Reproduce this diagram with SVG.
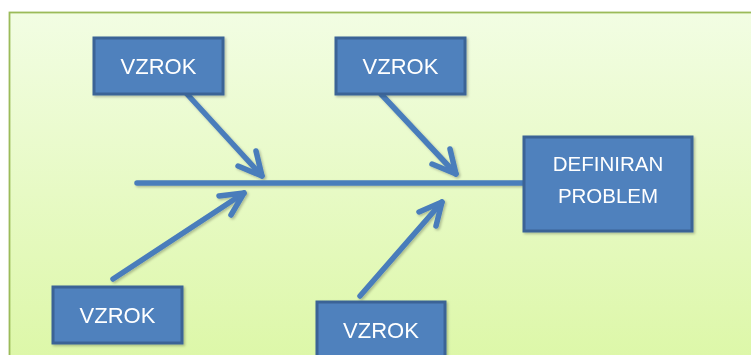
<svg xmlns="http://www.w3.org/2000/svg" width="751" height="355" viewBox="0 0 751 355">
  <style>
    .box { fill: #4f81bd; stroke: #3a6396; stroke-width: 3; }
    .lbl { fill: #ffffff; font-family: "Liberation Sans", Arial, sans-serif; font-size: 22px; text-anchor: middle; }
    .lbl2 { fill: #ffffff; font-family: "Liberation Sans", Arial, sans-serif; font-size: 20.5px; text-anchor: middle; }
    .bone { fill: none; stroke: #4a7dbb; stroke-width: 5.5; stroke-linecap: round; stroke-linejoin: round; }
  </style>
  <defs>
    <linearGradient id="bg" x1="0" y1="0" x2="0" y2="1">
      <stop offset="0" stop-color="#f2fde3"/>
      <stop offset="1" stop-color="#dcf7a6"/>
    </linearGradient>
    <filter id="shadow" x="-20%" y="-20%" width="140%" height="140%">
      <feDropShadow dx="1.5" dy="1.5" stdDeviation="1.2" flood-color="#000000" flood-opacity="0.25"/>
    </filter>
  </defs>

  <!-- backdrop panel -->
  <rect x="0" y="0" width="751" height="355" fill="#ffffff"/>
  <rect x="9.5" y="12.5" width="750" height="360" fill="url(#bg)" stroke="#9bbb59" stroke-width="1.8"/>

  <!-- spine and cause arrows -->
  <g id="connectors" filter="url(#shadow)">
    <line class="bone" x1="137" y1="183" x2="524" y2="183" stroke-linecap="butt"/>
    <!-- top left cause -->
    <line class="bone" x1="187" y1="94" x2="262" y2="176"/>
    <polyline class="bone" points="238,166 262,176 256,151"/>
    <!-- top right cause -->
    <line class="bone" x1="381" y1="94" x2="456" y2="174"/>
    <polyline class="bone" points="432,164 456,174 450,149"/>
    <!-- bottom left cause -->
    <line class="bone" x1="113" y1="279" x2="244" y2="193"/>
    <polyline class="bone" points="219,196 244,193 231,215"/>
    <!-- bottom right cause -->
    <line class="bone" x1="360" y1="296" x2="442" y2="202"/>
    <polyline class="bone" points="419,212 442,202 436,226"/>
  </g>

  <g id="cause-top-left" filter="url(#shadow)">
    <rect class="box" x="94" y="38" width="129" height="56"/>
    <text class="lbl" x="158.5" y="74">VZROK</text>
  </g>
  <g id="cause-top-right" filter="url(#shadow)">
    <rect class="box" x="336" y="38" width="129" height="56"/>
    <text class="lbl" x="400.5" y="74">VZROK</text>
  </g>
  <g id="cause-bottom-left" filter="url(#shadow)">
    <rect class="box" x="53" y="287" width="129" height="56"/>
    <text class="lbl" x="117.5" y="323">VZROK</text>
  </g>
  <g id="cause-bottom-right" filter="url(#shadow)">
    <rect class="box" x="317" y="302" width="128" height="62"/>
    <text class="lbl" x="381" y="338">VZROK</text>
  </g>
  <g id="problem" filter="url(#shadow)">
    <rect class="box" x="524" y="137" width="168" height="94"/>
    <text class="lbl2" x="608" y="171">DEFINIRAN</text>
    <text class="lbl2" x="608" y="203">PROBLEM</text>
  </g>
</svg>
